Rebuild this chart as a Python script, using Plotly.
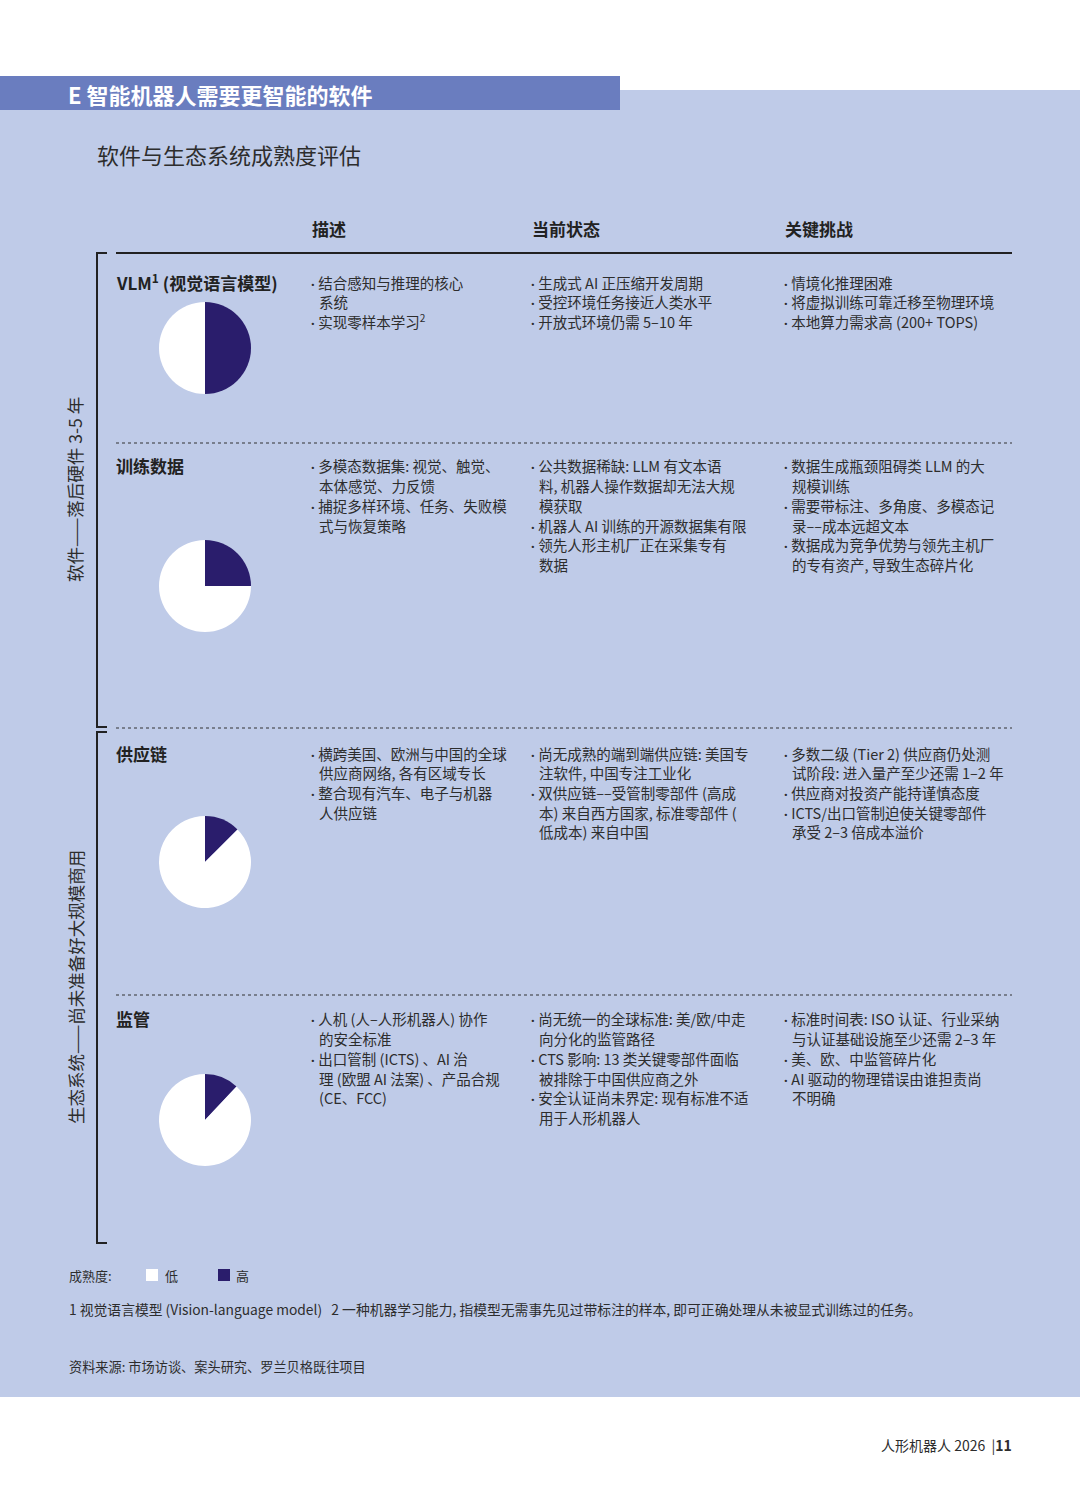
import plotly.graph_objects as go

W, H = 1080, 1506

# ---- data ----
header = 'E 智能机器人需要更智能的软件'
subtitle = '软件与生态系统成熟度评估'
col_headers = ['描述', '当前状态', '关键挑战']
row_labels = ['VLM<sup>1</sup> (视觉语言模型)', '训练数据', '供应链', '监管']
group_labels = ['软件——落后硬件 3-5 年', '生态系统——尚未准备好大规模商用']

# maturity share shown as the dark ("高") slice of each pie, in percent
maturity_high = [50, 25, 12.5, 12]
maturity_low = [100 - v for v in maturity_high]
legend_labels = ['低', '高']

desc = [
    [['结合感知与推理的核心', '系统'], ['实现零样本学习<sup>2</sup>']],
    [['多模态数据集: 视觉、触觉、', '本体感觉、力反馈'], ['捕捉多样环境、任务、失败模', '式与恢复策略']],
    [['横跨美国、欧洲与中国的全球', '供应商网络, 各有区域专长'], ['整合现有汽车、电子与机器', '人供应链']],
    [['人机 (人–人形机器人) 协作', '的安全标准'],
     ['出口管制 (ICTS) 、AI 治', '理 (欧盟 AI 法案) 、产品合规', '(CE、FCC)']],
]
status = [
    [['生成式 AI 正压缩开发周期'], ['受控环境任务接近人类水平'], ['开放式环境仍需 5–10 年']],
    [['公共数据稀缺: LLM 有文本语', '料, 机器人操作数据却无法大规', '模获取'],
     ['机器人 AI 训练的开源数据集有限'], ['领先人形主机厂正在采集专有', '数据']],
    [['尚无成熟的端到端供应链: 美国专', '注软件, 中国专注工业化'],
     ['双供应链––受管制零部件 (高成', '本) 来自西方国家, 标准零部件 (', '低成本) 来自中国']],
    [['尚无统一的全球标准: 美/欧/中走', '向分化的监管路径'],
     ['CTS 影响: 13 类关键零部件面临', '被排除于中国供应商之外'],
     ['安全认证尚未界定: 现有标准不适', '用于人形机器人']],
]
challenges = [
    [['情境化推理困难'], ['将虚拟训练可靠迁移至物理环境'], ['本地算力需求高 (200+ TOPS)']],
    [['数据生成瓶颈阻碍类 LLM 的大', '规模训练'], ['需要带标注、多角度、多模态记', '录––成本远超文本'],
     ['数据成为竞争优势与领先主机厂', '的专有资产, 导致生态碎片化']],
    [['多数二级 (Tier 2) 供应商仍处测', '试阶段: 进入量产至少还需 1–2 年'],
     ['供应商对投资产能持谨慎态度'], ['ICTS/出口管制迫使关键零部件', '承受 2–3 倍成本溢价']],
    [['标准时间表: ISO 认证、行业采纳', '与认证基础设施至少还需 2–3 年'],
     ['美、欧、中监管碎片化'], ['AI 驱动的物理错误由谁担责尚', '不明确']],
]
footnote = ('1 视觉语言模型 (Vision-language model)   2 一种机器学习能力, 指模型无需事先见过带标注的样本, '
            '即可正确处理从未被显式训练过的任务。')
source = '资料来源: 市场访谈、案头研究、罗兰贝格既往项目'
page_footer = '人形机器人 2026  |<b>11</b>'

# ---- layout constants ----
FONT = 'Noto Sans CJK SC, Noto Sans, sans-serif'
BG = '#bfcbe8'
BAND = '#6a7dbf'
NAVY = '#2a1d6c'
INK = '#2d2d2d'
row_tops = [282, 466, 753, 1019]
pie_cy = [348, 586, 862, 1120]
pie_cx, pie_r = 205, 46
col_x = [309, 529, 782]
LINE = 19.7
BULLET = '<span style="font-family:Roboto;font-size:11px">•</span><span style="font-family:Roboto">\u00a0</span>'


def px(x):
    return x / W


def py(y):
    return 1 - y / H


def text(x, y, s, size=14.5, color=INK, anchor='left', **kw):
    return dict(x=px(x), y=py(y), xref='paper', yref='paper', text=s, showarrow=False,
                xanchor=anchor, yanchor='middle', font=dict(family=FONT, size=size, color=color), **kw)


fig = go.Figure()

# maturity pies
for i, (hi, lo) in enumerate(zip(maturity_high, maturity_low)):
    fig.add_trace(go.Pie(
        values=[hi, lo],
        labels=legend_labels[::-1],
        marker=dict(colors=[NAVY, 'white'], line=dict(width=0)),
        sort=False, direction='clockwise', rotation=0,
        textinfo='none', hoverinfo='label+value', showlegend=False,
        domain=dict(x=[px(pie_cx - pie_r), px(pie_cx + pie_r)],
                    y=[py(pie_cy[i] + pie_r), py(pie_cy[i] - pie_r)]),
    ))

shapes = [
    dict(type='rect', x0=0, x1=1, y0=py(1397), y1=py(90), fillcolor=BG, line=dict(width=0), layer='below'),
    dict(type='rect', x0=0, x1=px(620), y0=py(110), y1=py(76), fillcolor=BAND, line=dict(width=0), layer='below'),
    dict(type='line', x0=px(116), x1=px(1012), y0=py(253), y1=py(253), line=dict(color='#222', width=2)),
]
for y in [443, 728, 995]:
    shapes.append(dict(type='line', x0=px(116), x1=px(1012), y0=py(y), y1=py(y),
                       line=dict(color='#333', width=1.2, dash='dot')))
for top, bot in [(253, 727), (732, 1243)]:
    shapes.append(dict(type='path', path=f'M {px(107)} {py(top)} L {px(97)} {py(top)} L {px(97)} {py(bot)} L {px(107)} {py(bot)}',
                       xref='paper', yref='paper', line=dict(color='#222', width=2)))
# legend swatches
for x0, c in [(146, 'white'), (218, NAVY)]:
    shapes.append(dict(type='rect', x0=px(x0), x1=px(x0 + 12), y0=py(1281), y1=py(1269),
                       fillcolor=c, line=dict(width=0)))

ann = [
    text(66, 94, f'<b>{header}</b>', size=22, color='white'),
    text(95, 154, subtitle, size=22, color=INK),
]
for x, s in zip(col_x, col_headers):
    ann.append(text(x + 1, 229, f'<b>{s}</b>', size=17, color='#222'))
for y, s in zip(row_tops, row_labels):
    ann.append(text(114, y, f'<b>{s}</b>', size=17, color='#222'))
ann.append(text(75, 490, group_labels[0], size=17.5, anchor='center', textangle=-90))
ann.append(text(75, 987, group_labels[1], size=17.5, anchor='center', textangle=-90))

for r, y0 in enumerate(row_tops):
    for c, col in enumerate([desc, status, challenges]):
        n = 0
        for bullet in col[r]:
            for k, line in enumerate(bullet):
                if k == 0:
                    ann.append(text(col_x[c], y0 + n * LINE, BULLET + line))
                else:
                    ann.append(text(col_x[c] + 8, y0 + n * LINE, line))
                n += 1

ann += [
    text(67, 1275, '成熟度:', size=13),
    text(163, 1275, legend_labels[0], size=13),
    text(234, 1275, legend_labels[1], size=13),
    text(67, 1309, footnote, size=13.8),
    text(67, 1366, source, size=13.2),
    text(1014, 1445, page_footer, size=14, anchor='right'),
]

fig.update_layout(
    width=W, height=H,
    margin=dict(l=0, r=0, t=0, b=0),
    paper_bgcolor='white', plot_bgcolor='white',
    shapes=shapes, annotations=ann,
    showlegend=False,
)

fig.write_html('out.html', config={'displayModeBar': False},
               post_script="document.body.style.margin='0';document.body.style.padding='0';")
